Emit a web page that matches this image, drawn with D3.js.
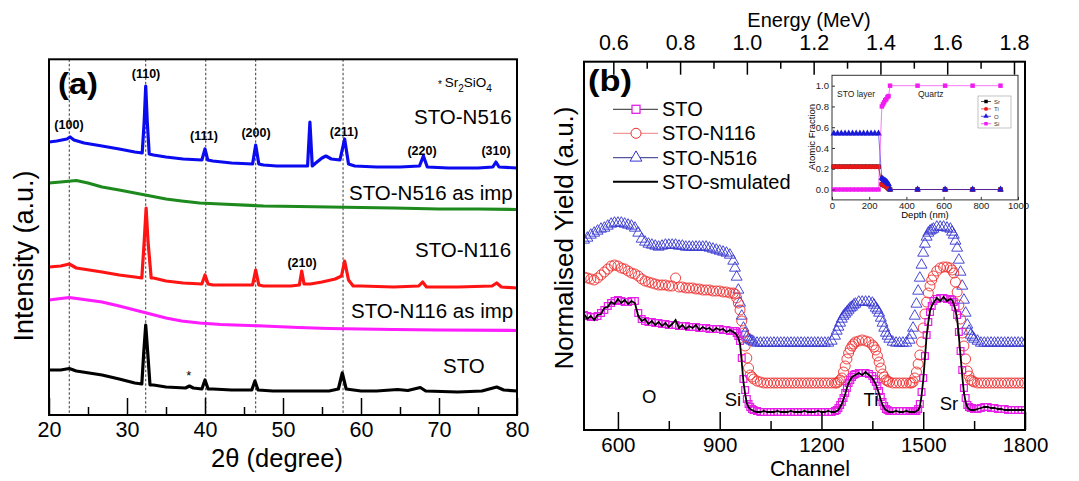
<!DOCTYPE html>
<html>
<head>
<meta charset="utf-8">
<script src="https://cdn.jsdelivr.net/npm/d3@7"></script>
<style>
  body { margin: 0; background: #fff; }
  svg { display: block; font-family: "Liberation Sans", Arial, sans-serif; }
</style>
</head>
<body>
<svg id="chart" width="1079" height="481"></svg>
<script>
// ---------- data, panel (a): XRD, [2theta, intensity a.u. (offset)] ----------
var xrdN516 = [[20,280],[21,281],[22.3,283],[22.7,285],[23.2,282],[24.5,279],[26.8,276],[29,273],[31,270],[31.95,269],[32.2,300],[32.4,336],[32.6,300],[32.85,268],[33.4,267],[35,265],[37.2,263],[39.6,262],[40,273],[40.35,262],[41,261],[43.4,259],[46.1,258],[46.5,277],[46.9,258],[47.5,257],[49.2,256],[51,256],[53.15,256],[53.45,300],[53.75,256],[54.2,259],[55,264],[55.5,266],[56.2,263],[57.3,262],[57.9,283],[58.4,258],[59.2,256],[62,255],[65,255],[67.5,256],[68,266],[68.5,255],[71.2,254],[75,254],[76.9,255],[77.3,260],[77.7,255],[80,254]];
var xrdN516imp = [[20,239],[21.5,240],[23.5,241.5],[25,239],[26.8,235],[29,232],[31,229],[33,226],[35,223],[37,221],[39.3,219],[42,218],[47.5,216],[52,215.5],[55.9,215],[60,214.5],[64.2,214],[70,213],[75,213],[80,212.5]];
var xrdN116 = [[20,155],[21.5,156],[22.6,158],[23.5,154],[26.8,150],[29,147],[31,145],[31.9,144],[32.2,180],[32.45,214],[32.7,180],[33.1,144],[33.4,144],[35,141],[37.2,139],[39.6,138],[40,147],[40.4,138],[41,137],[43.4,137],[46.1,137],[46.5,152],[46.9,137],[47.5,136],[49.2,136],[51,136],[52.1,137],[52.4,151],[52.7,138],[53.5,138],[55,140],[56.7,143],[57.5,146],[57.9,161],[58.4,142],[59,136],[60,136],[64.2,135],[67.4,136],[67.9,140],[68.4,135],[72.4,135],[76.8,136],[77.4,139],[78,135],[80,134]];
var xrdN116imp = [[20,122],[21,123],[22.6,124.5],[24,123],[26.8,120],[29,116],[31,112],[33,108],[35,104],[37,101],[39.3,99],[42,97.5],[47.5,96],[52,94.5],[55.9,93.5],[60,93],[64.2,92.5],[70,92],[80,91.5]];
var xrdSTO = [[20,52],[21.5,52],[22.6,53.5],[23.5,51],[26.8,47],[29,43],[31,39],[31.9,38],[32.15,70],[32.4,97],[32.65,70],[32.95,37],[33.4,37],[35,35],[37.5,34],[38,36],[38.5,34],[39.6,33],[40,42],[40.4,33],[41,33],[43.4,32],[46,32],[46.4,41],[46.8,32],[48.7,31],[52,31],[55.9,31],[57.1,33],[57.6,49],[58.1,33],[60,31],[62,31],[64.7,32.5],[66,31.5],[67.6,34.5],[68.3,31],[72.4,30],[75.5,31],[77.4,35],[78.3,32],[80,31]];
var refLines = [22.6, 32.4, 40.1, 46.5, 57.7];
var twoThetaTicks = [20, 30, 40, 50, 60, 70, 80];
var twoThetaMinor = [25, 35, 45, 55, 65, 75];
var hklLabels = [
  {t: "(100)", x: 22.56, v: 293}, {t: "(110)", x: 32.44, v: 344}, {t: "(111)", x: 39.87, v: 282},
  {t: "(200)", x: 46.54, v: 285}, {t: "(211)", x: 57.82, v: 286}, {t: "(220)", x: 67.82, v: 267},
  {t: "(310)", x: 77.31, v: 267}, {t: "(210)", x: 52.44, v: 155}
];

// ---------- data, panel (b): RBS, yield vs channel ----------
var channels = d3.range(500, 1801, 10);
var rbsSTO = [
  113,112,111,111,112,115,118,122,125,127,
  128,127,126,126,127,127,115,109,107,106,
  106,105,105,104,104,103,103,103,102,102,
  102,101,101,101,100,100,100,99,99,99,
  99,98,98,97,97,95,87,49,29,21,
  18,17,16,16,16,16,16,16,16,16,
  16,16,16,16,16,16,16,16,16,16,
  16,16,16,16,17,20,26,35,45,51,
  54,55,55,55,54,52,46,37,26,19,
  17,17,17,17,17,17,17,17,17,24,
  50,93,116,127,129,130,130,129,129,126,
  113,77,40,23,20,19,19,20,21,21,
  20,20,19,19,19,18,18,18,18,18,
  18];
var rbsN116 = [
  151,150,149,148,150,153,156,159,162,163,
  162,160,159,157,155,154,152,149,147,146,
  145,144,143,143,143,142,142,150,141,141,
  140,140,140,139,139,138,138,138,137,137,
  137,136,136,135,135,130,118,95,70,53,
  49,47,46,45,45,45,45,45,45,45,
  45,45,45,45,45,45,45,45,45,45,
  45,45,45,45,45,46,50,62,75,82,
  86,87,88,87,86,83,78,66,54,48,
  46,45,45,45,45,45,45,46,56,73,
  100,126,142,152,157,160,161,161,160,155,
  136,109,82,57,48,46,45,45,45,45,
  45,45,45,45,45,45,45,45,45,45,
  45];
var rbsN516 = [
  188,190,193,195,197,199,200,202,204,205,
  205,205,204,203,202,200,195,189,186,184,
  183,182,181,182,183,183,183,183,182,182,
  181,181,181,181,181,181,181,180,179,178,
  177,176,175,173,167,151,125,100,91,88,
  86,85,85,85,85,85,85,85,85,85,
  85,85,85,85,85,85,85,85,85,85,
  85,85,85,87,92,101,109,114,118,121,
  124,126,126,126,126,125,120,115,105,95,
  89,86,85,85,85,85,88,100,124,150,
  175,191,197,199,201,201,201,200,199,193,
  180,156,128,103,93,89,87,85,85,85,
  85,85,85,85,85,85,85,85,85,85,
  85];
var rbsSim = [
  114,109,112,108,113,114,120,121,126,124,
  129,125,128,124,127,125,112,107,109,104,
  107,103,106,102,105,101,104,108,100,103,
  99,102,100,103,98,101,99,100,97,100,
  98,99,96,98,96,93,84,46,25,19,
  17,16,16,17,16,16,16,17,16,16,
  16,17,16,16,16,17,16,16,16,17,
  16,16,17,16,16,18,24,34,45,51,
  53,55,53,56,53,50,44,34,23,18,
  16,16,17,16,16,17,16,16,17,21,
  48,92,117,125,130,127,131,127,129,124,
  109,72,35,21,18,18,19,20,21,21,
  20,20,19,19,18,18,18,18,18,18,
  18];
// extra readings on the steep edges (Si, Ti, Sr)
var edgeChannels = [945,955,965,975,985,995, 1245,1255,1265,1275,1285,1295, 1355,1365,1375,1385,1395, 1465,1475,1485,1495,1505,1515,1525, 1585,1595,1605,1615,1625,1635,1645];
var edgeSTO  = [97,92,70,38,24,19, 18,23,30,40,48,53, 49,42,31,22,18, 17,17,19,36,72,106,122, 128,121,96,58,30,21,20];
var edgeN116 = [134,125,107,82,60,51, 45,48,56,69,79,84, 81,72,60,51,47, 45,50,64,86,114,135,148, 158,146,123,95,69,52,47];
var edgeN516 = [160,138,112,95,89,87, 97,105,112,116,120,123, 123,118,110,100,92, 93,112,137,163,184,195,198, 196,187,168,142,115,97,91];
var edgeSim  = [95,90,66,34,21,18, 17,21,29,40,48,52, 47,39,28,20,17, 16,16,18,32,70,106,122, 128,118,92,52,26,19,18];
var channelTicks = [600, 900, 1200, 1500, 1800];
var channelMinor = [750, 1050, 1350, 1650];
var energyTicks = [0.6, 0.8, 1.0, 1.2, 1.4, 1.6, 1.8];
var energyMinor = [0.7, 0.9, 1.1, 1.3, 1.5, 1.7];
var edgeLabels = [{t: "O", c: 692, y: 403}, {t: "Si", c: 939, y: 406}, {t: "Ti", c: 1346, y: 406}, {t: "Sr", c: 1576, y: 410}];

// ---------- data, inset: atomic fraction vs depth ----------
var depth = [10,30,50,70,90,110,130,150,170,190,210,230,250, 268,274,280,286,292,298,304, 312,460,608,756,906];
var fracSr = [0.22,0.22,0.22,0.22,0.22,0.22,0.22,0.22,0.22,0.22,0.22,0.22,0.22, 0.05,0.045,0.04,0.035,0.03,0.02,0.01, 0,0,0,0,0];
var fracTi = [0.22,0.22,0.22,0.22,0.22,0.22,0.22,0.22,0.22,0.22,0.22,0.22,0.22, 0.05,0.045,0.04,0.035,0.03,0.025,0.01, 0,0,0,0,0];
var fracO  = [0.54,0.54,0.54,0.54,0.54,0.54,0.54,0.54,0.54,0.54,0.54,0.54,0.54, 0.11,0.10,0.09,0.085,0.075,0.065,0.05, 0,0,0,0,0];
var fracSi = [0,0,0,0,0,0,0,0,0,0,0,0,0, 0.80,0.82,0.84,0.86,0.87,0.89,0.90, 1,1,1,1,1];
var depthTicks = [0, 200, 400, 600, 800, 1000];
var fracTicks = [0, 0.2, 0.4, 0.6, 0.8, 1.0];

var FONT = "Liberation Sans, Arial, sans-serif";
var svg = d3.select("#chart");

// =================== panel (a) ===================
var A = {left: 49, right: 517, top: 59.3, bottom: 415};
var xa = d3.scaleLinear().domain([20, 80]).range([A.left, A.right]);
var ya = d3.scaleLinear().domain([7, 362.7]).range([A.bottom, A.top]);
var ga = svg.append("g");

ga.append("clipPath").attr("id", "clipA").append("rect")
  .attr("x", A.left).attr("y", A.top).attr("width", A.right - A.left).attr("height", A.bottom - A.top);

ga.selectAll("line.ref").data(refLines).join("line")
  .attr("class", "ref")
  .attr("x1", function(d) { return xa(d); }).attr("x2", function(d) { return xa(d); })
  .attr("y1", A.top).attr("y2", A.bottom)
  .attr("stroke", "#222").attr("stroke-width", 0.9).attr("stroke-dasharray", "2.5,2");

var lineA = d3.line().x(function(d) { return xa(d[0]); }).y(function(d) { return ya(d[1]); });
var tracesA = [
  {d: xrdN516, c: "#0b0bf0"}, {d: xrdN516imp, c: "#1e8a1e"}, {d: xrdN116, c: "#ff1414"},
  {d: xrdN116imp, c: "#ff1cff"}, {d: xrdSTO, c: "#000"}
];
ga.append("g").attr("clip-path", "url(#clipA)")
  .selectAll("path").data(tracesA).join("path")
  .attr("d", function(d) { return lineA(d.d); })
  .attr("fill", "none").attr("stroke", function(d) { return d.c; })
  .attr("stroke-width", 3.2).attr("stroke-linejoin", "round");

// bottom axis, ticks inside
var axA = ga.append("g").attr("transform", "translate(0," + A.bottom + ")")
  .call(d3.axisBottom(xa).tickValues(twoThetaTicks).tickSize(-17).tickPadding(6.7).tickFormat(d3.format("d")));
axA.append("g").call(d3.axisBottom(xa).tickValues(twoThetaMinor).tickSize(-8).tickFormat(""));
axA.selectAll(".domain").remove();
axA.attr("font-family", FONT).attr("font-size", 21.5);
axA.selectAll("line").attr("stroke", "#000").attr("stroke-width", 1.5);
axA.selectAll("text").attr("fill", "#000");

ga.append("rect").attr("x", A.left).attr("y", A.top)
  .attr("width", A.right - A.left).attr("height", A.bottom - A.top)
  .attr("fill", "none").attr("stroke", "#000").attr("stroke-width", 2);

ga.append("text").attr("x", 277).attr("y", 467).attr("text-anchor", "middle")
  .attr("font-size", 25.5).text("2θ (degree)");
ga.append("text").attr("transform", "translate(33,256) rotate(-90)").attr("text-anchor", "middle")
  .attr("font-size", 27).text("Intensity (a.u.)");
ga.append("text").attr("x", 58).attr("y", 94).attr("font-size", 29).attr("font-weight", "bold")
  .attr("textLength", 40).attr("lengthAdjust", "spacingAndGlyphs").text("(a)");

ga.selectAll("text.hkl").data(hklLabels).join("text")
  .attr("class", "hkl")
  .attr("x", function(d) { return xa(d.x); }).attr("y", function(d) { return ya(d.v); })
  .attr("text-anchor", "middle").attr("font-size", 12.5).attr("font-weight", "bold").text(function(d) { return d.t; });

var sampleA = [
  {t: "STO-N516", x: 414, y: 124}, {t: "STO-N516 as imp", x: 349, y: 200},
  {t: "STO-N116", x: 415, y: 257}, {t: "STO-N116 as imp", x: 351, y: 318}, {t: "STO", x: 443, y: 373}
];
ga.selectAll("text.samp").data(sampleA).join("text")
  .attr("class", "samp").attr("x", function(d) { return d.x; }).attr("y", function(d) { return d.y; })
  .attr("font-size", 20.5).text(function(d) { return d.t; });
ga.append("text").attr("x", xa(37.93)).attr("y", 380).attr("text-anchor", "middle").attr("font-size", 13).text("*");

// * Sr2SiO4 note
var note = ga.append("text").attr("x", 438).attr("y", 87).attr("font-size", 13.5);
note.append("tspan").attr("font-size", 10).attr("dy", 1).text("* ");
note.append("tspan").attr("dy", -1).text("Sr");
note.append("tspan").attr("dy", 5).attr("font-size", 10).text("2");
note.append("tspan").attr("dy", -5).text("SiO");
note.append("tspan").attr("dy", 5).attr("font-size", 10).text("4");

// =================== panel (b) ===================
var B = {left: 584, right: 1025, top: 61.7, bottom: 430};
var xb = d3.scaleLinear().domain([500, 1800]).range([B.left, B.right]);
var xe = d3.scaleLinear().domain([0.5122, 1.833]).range([B.left, B.right]);
var yb = d3.scaleLinear().domain([-2, 366.3]).range([B.bottom, B.top]);
var gb = svg.append("g");

// grid readings + edge readings, sorted by channel
function pts(arr, edge) {
  var p = channels.map(function(c, i) { return {c: c, v: arr[i]}; });
  edgeChannels.forEach(function(c, i) { p.push({c: c, v: edge[i]}); });
  return p.sort(function(a, b) { return a.c - b.c; });
}

gb.append("clipPath").attr("id", "clipB").append("rect")
  .attr("x", B.left).attr("y", B.top).attr("width", B.right - B.left).attr("height", B.bottom - B.top);
var plotB = gb.append("g").attr("clip-path", "url(#clipB)");

var tri = d3.symbol().type(d3.symbolTriangle).size(52);
var sq = d3.symbol().type(d3.symbolSquare).size(46);

plotB.append("g").selectAll("path").data(pts(rbsN516, edgeN516)).join("path")
  .attr("d", tri).attr("transform", function(d) { return "translate(" + xb(d.c) + "," + yb(d.v) + ")"; })
  .attr("fill", "none").attr("stroke", "#3434d0").attr("stroke-width", 0.9);
plotB.append("g").selectAll("circle").data(pts(rbsN116, edgeN116)).join("circle")
  .attr("cx", function(d) { return xb(d.c); }).attr("cy", function(d) { return yb(d.v); }).attr("r", 5)
  .attr("fill", "none").attr("stroke", "#ee2e2e").attr("stroke-width", 0.9);
plotB.append("g").selectAll("path").data(pts(rbsSTO, edgeSTO)).join("path")
  .attr("d", sq).attr("transform", function(d) { return "translate(" + xb(d.c) + "," + yb(d.v) + ")"; })
  .attr("fill", "none").attr("stroke", "#e61ee6").attr("stroke-width", 1.2);
plotB.append("path").datum(pts(rbsSim, edgeSim))
  .attr("d", d3.line().x(function(d) { return xb(d.c); }).y(function(d) { return yb(d.v); }))
  .attr("fill", "none").attr("stroke", "#000").attr("stroke-width", 1.8);

// axes
var axB = gb.append("g").attr("transform", "translate(0," + B.bottom + ")")
  .call(d3.axisBottom(xb).tickValues(channelTicks).tickSize(-18).tickPadding(7.5).tickFormat(d3.format("d")));
axB.append("g").call(d3.axisBottom(xb).tickValues(channelMinor).tickSize(-9).tickFormat(""));
var axE = gb.append("g").attr("transform", "translate(0," + B.top + ")")
  .call(d3.axisTop(xe).tickValues(energyTicks).tickSize(-13).tickPadding(11.7).tickFormat(d3.format(".1f")));
axE.append("g").call(d3.axisTop(xe).tickValues(energyMinor).tickSize(-7).tickFormat(""));
[axB, axE].forEach(function(ax) {
  ax.selectAll(".domain").remove();
  ax.attr("font-family", FONT).attr("font-size", 21.5);
  ax.selectAll("line").attr("stroke", "#000").attr("stroke-width", 1.5);
  ax.selectAll("text").attr("fill", "#000");
});
axB.attr("font-size", 20.5);

gb.append("rect").attr("x", B.left).attr("y", B.top)
  .attr("width", B.right - B.left).attr("height", B.bottom - B.top)
  .attr("fill", "none").attr("stroke", "#000").attr("stroke-width", 2);

gb.append("text").attr("x", 809).attr("y", 27).attr("text-anchor", "middle").attr("font-size", 20).text("Energy (MeV)");
gb.append("text").attr("x", 810).attr("y", 476).attr("text-anchor", "middle").attr("font-size", 21.5).text("Channel");
gb.append("text").attr("transform", "translate(573,238) rotate(-90)").attr("text-anchor", "middle")
  .attr("font-size", 26).text("Normalised Yield (a.u.)");
gb.append("text").attr("x", 588).attr("y", 91).attr("font-size", 29).attr("font-weight", "bold")
  .attr("textLength", 44).attr("lengthAdjust", "spacingAndGlyphs").text("(b)");

gb.selectAll("text.edge").data(edgeLabels).join("text")
  .attr("class", "edge").attr("x", function(d) { return xb(d.c); }).attr("y", function(d) { return d.y; })
  .attr("text-anchor", "middle").attr("font-size", 18.5).text(function(d) { return d.t; });

// legend
var legB = [
  {t: "STO", y: 109.3, line: "#555", mk: "sq", c: "#e61ee6"},
  {t: "STO-N116", y: 133.3, line: "#f29a9a", mk: "circ", c: "#ee2e2e"},
  {t: "STO-N516", y: 157.7, line: "#55559a", mk: "tri", c: "#3434d0"},
  {t: "STO-smulated", y: 181.7, line: "#000", mk: null}
];
var lg = gb.append("g").selectAll("g").data(legB).join("g")
  .attr("transform", function(d) { return "translate(0," + d.y + ")"; });
lg.append("line").attr("x1", 613).attr("x2", 658)
  .attr("stroke", function(d) { return d.line; }).attr("stroke-width", function(d) { return d.mk ? 1.2 : 2; });
lg.filter(function(d) { return d.mk === "sq"; }).append("rect")
  .attr("x", 632).attr("y", -4).attr("width", 8).attr("height", 8).attr("fill", "#fff").attr("stroke", function(d) { return d.c; }).attr("stroke-width", 1.3);
lg.filter(function(d) { return d.mk === "circ"; }).append("circle")
  .attr("cx", 636).attr("r", 5).attr("fill", "#fff").attr("stroke", function(d) { return d.c; });
lg.filter(function(d) { return d.mk === "tri"; }).append("path")
  .attr("d", d3.symbol().type(d3.symbolTriangle).size(60)).attr("transform", "translate(636,0)")
  .attr("fill", "#fff").attr("stroke", function(d) { return d.c; });
lg.append("text").attr("x", 662).attr("y", 7).attr("font-size", 20).text(function(d) { return d.t; });

// =================== inset ===================
var I = {left: 832, right: 1018, top: 75.3, bottom: 199.9};
var xi = d3.scaleLinear().domain([0, 1000]).range([I.left, I.right]);
var yi = d3.scaleLinear().domain([-0.1, 1.1]).range([I.bottom, I.top]);
var gi = svg.append("g");
gi.append("rect").attr("x", I.left).attr("y", I.top).attr("width", I.right - I.left).attr("height", I.bottom - I.top)
  .attr("fill", "#fff").attr("stroke", "#333").attr("stroke-width", 1);

var insetSeries = [
  {n: "Sr", v: fracSr, c: "#000", mk: "sq"},
  {n: "Ti", v: fracTi, c: "#e81818", mk: "circ"},
  {n: "O", v: fracO, c: "#1a1ad8", mk: "tri"},
  {n: "Si", v: fracSi, c: "#f01cf0", mk: "sq"}
];
var lineI = d3.line().x(function(d) { return xi(d[0]); }).y(function(d) { return yi(d[1]); });
insetSeries.forEach(function(s) {
  var p = depth.map(function(d, i) { return [d, s.v[i]]; });
  gi.append("path").attr("d", lineI(p)).attr("fill", "none").attr("stroke", s.c).attr("stroke-width", 0.6);
  var sym = s.mk === "sq" ? d3.symbolSquare : s.mk === "tri" ? d3.symbolTriangle : d3.symbolCircle;
  gi.append("g").selectAll("path").data(p).join("path")
    .attr("d", d3.symbol().type(sym).size(20))
    .attr("transform", function(d) { return "translate(" + xi(d[0]) + "," + yi(d[1]) + ")"; })
    .attr("fill", s.c);
});

var axIx = gi.append("g").attr("transform", "translate(0," + I.bottom + ")")
  .call(d3.axisBottom(xi).tickValues(depthTicks).tickSize(-3).tickPadding(2).tickFormat(d3.format("d")));
var axIy = gi.append("g").attr("transform", "translate(" + I.left + ",0)")
  .call(d3.axisLeft(yi).tickValues(fracTicks).tickSize(-3).tickPadding(3).tickFormat(d3.format(".1f")));
[axIx, axIy].forEach(function(ax) {
  ax.select(".domain").remove();
  ax.attr("font-family", FONT).attr("font-size", 9.5);
  ax.selectAll("line").attr("stroke", "#333");
  ax.selectAll("text").attr("fill", "#222");
});
gi.append("text").attr("x", 925).attr("y", 218).attr("text-anchor", "middle").attr("font-size", 9.5).text("Depth (nm)");
gi.append("text").attr("transform", "translate(815,137) rotate(-90)").attr("text-anchor", "middle")
  .attr("font-size", 9.5).text("Atomic Fraction");
gi.append("text").attr("x", 837).attr("y", 97).attr("font-size", 8.5).attr("fill", "#222").text("STO layer");
gi.append("text").attr("x", 918).attr("y", 97).attr("font-size", 8.5).attr("fill", "#222").text("Quartz");

var li = gi.append("g");
li.append("rect").attr("x", 978).attr("y", 96).attr("width", 33).attr("height", 32)
  .attr("fill", "#fff").attr("stroke", "#999").attr("stroke-width", 0.6);
var lgi = li.selectAll("g").data(insetSeries).join("g")
  .attr("transform", function(d, i) { return "translate(0," + (101.5 + i * 7.4) + ")"; });
lgi.append("line").attr("x1", 981).attr("x2", 991).attr("stroke", function(d) { return d.c; }).attr("stroke-width", 0.7);
lgi.append("path")
  .attr("d", function(d) { return d3.symbol().type(d.mk === "sq" ? d3.symbolSquare : d.mk === "tri" ? d3.symbolTriangle : d3.symbolCircle).size(12)(); })
  .attr("transform", "translate(986,0)").attr("fill", function(d) { return d.c; });
lgi.append("text").attr("x", 994).attr("y", 2.2).attr("font-size", 6).attr("fill", "#333").text(function(d) { return d.n; });
</script>
</body>
</html>
